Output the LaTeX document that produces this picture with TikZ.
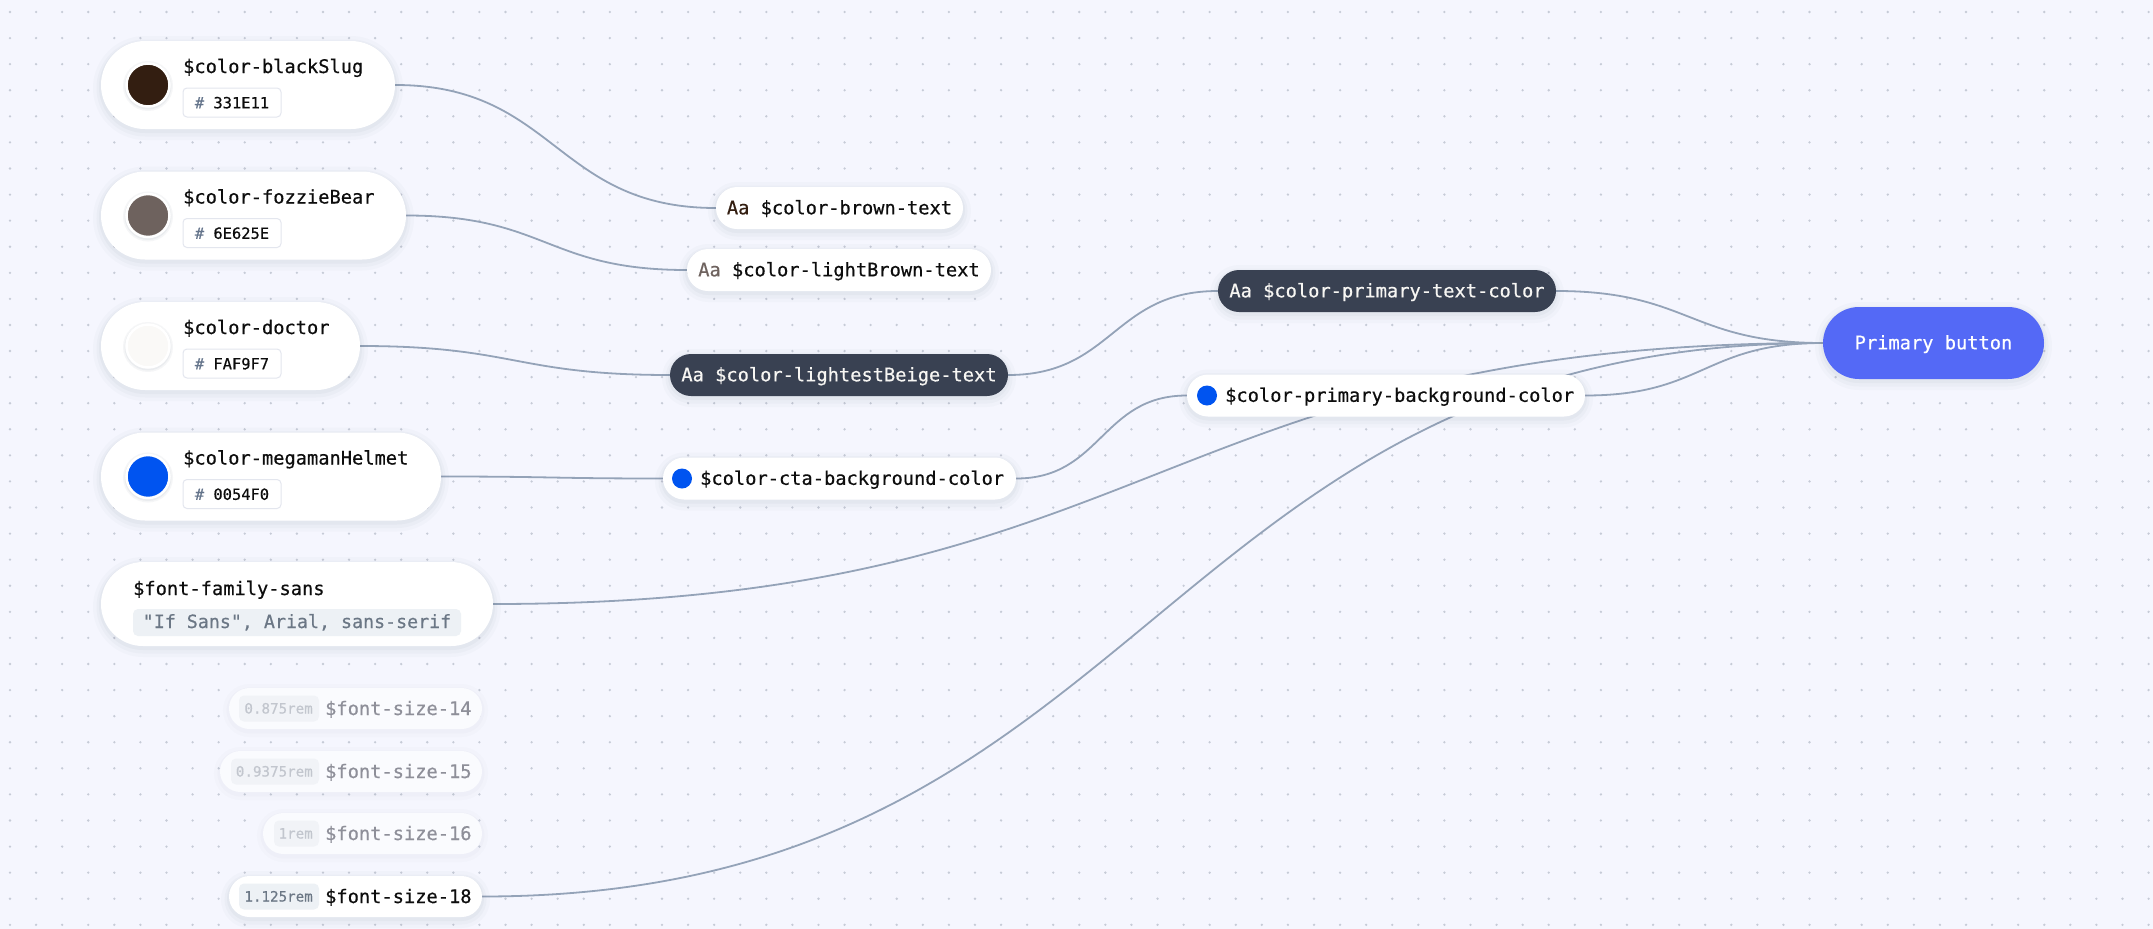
\documentclass[tikz,border=0pt]{standalone}
\usepackage{fontspec}
\newfontfamily\mono[FakeBold=0.5]{DejaVu Sans Mono}
\usetikzlibrary{calc}

\definecolor{canvas}{HTML}{F5F6FE}
\definecolor{griddot}{HTML}{C6CBD7}
\definecolor{wirec}{HTML}{94A3B8}
\definecolor{slate}{HTML}{394152}
\definecolor{ink}{HTML}{0D0D0D}
\definecolor{lighttext}{HTML}{F7F6F3}
\definecolor{hashc}{HTML}{64748B}
\definecolor{hexline}{HTML}{E3E6EE}
\definecolor{valfill}{HTML}{EDF1F5}
\definecolor{valtext}{HTML}{6B7785}
\definecolor{shadowc}{HTML}{4A5470}
\definecolor{blackSlug}{HTML}{331E11}
\definecolor{fozzieBear}{HTML}{6E625E}
\definecolor{doctor}{HTML}{FAF9F7}
\definecolor{megaman}{HTML}{0054F0}
\definecolor{btn}{HTML}{5469F6}
\definecolor{fadetext}{HTML}{8E8F99}
\definecolor{fadefill}{HTML}{FAFBFE}
\definecolor{fadeval}{HTML}{C2C6CE}
\definecolor{fadevalfill}{HTML}{F1F3F7}

\pgfdeclarelayer{grid}
\pgfdeclarelayer{links}
\pgfsetlayers{grid,links,main}

\newcommand\bigfont{\mono\fontsize{18.7pt}{22pt}\selectfont}
\newcommand\hexfont{\mono\fontsize{15.4pt}{18pt}\selectfont}
\newcommand\remfont{\mono\fontsize{14.2pt}{17pt}\selectfont}

% bezier link with horizontal tangents at both ends
\newcommand\wire[2]{%
  \draw[wire] let \p1=(#1.east), \p2=(#2.west), \n1={0.5*(\x2-\x1)} in
    (\p1) .. controls +(\n1,0pt) and +(-\n1,0pt) .. (\p2);}

\tikzset{
  % soft drop shadow built from stacked translucent strokes
  softshadow/.style={
    preaction={draw=shadowc, draw opacity=0.025, line width=16pt, transform canvas={yshift=-3pt}},
    preaction={draw=shadowc, draw opacity=0.03, line width=9pt, transform canvas={yshift=-3pt}},
    preaction={draw=shadowc, draw opacity=0.04, line width=4pt, transform canvas={yshift=-2pt}}},
  faintshadow/.style={
    preaction={draw=shadowc, draw opacity=0.015, line width=12pt, transform canvas={yshift=-2pt}},
    preaction={draw=shadowc, draw opacity=0.02, line width=5pt, transform canvas={yshift=-2pt}}},
  card/.style={rectangle, fill=white, inner sep=0pt, rounded corners=44pt,
      minimum height=88pt, softshadow},
  chip/.style={rectangle, fill=white, inner sep=0pt, rounded corners=21pt,
      minimum height=42pt, softshadow},
  darkchip/.style={chip, fill=slate},
  sizepill/.style={rectangle, fill=white, inner sep=0pt, rounded corners=20.5pt,
      minimum height=41pt, softshadow},
  fadepill/.style={rectangle, fill=fadefill, inner sep=0pt, rounded corners=20.5pt,
      minimum height=41pt, faintshadow},
  swatch/.style={circle, inner sep=0pt, minimum size=43pt, draw=white,
      line width=2.5pt,
      preaction={draw=shadowc, draw opacity=0.05, line width=7pt, transform canvas={yshift=-1pt}},
      preaction={draw=shadowc, draw opacity=0.06, line width=4pt, transform canvas={yshift=-1pt}}},
  bluedot/.style={circle, fill=megaman, inner sep=0pt, minimum size=20pt},
  titletext/.style={anchor=base west, inner sep=0pt, text=ink, font=\bigfont},
  chiptext/.style={anchor=base, inner sep=0pt, text=ink, font=\bigfont},
  hexbox/.style={rectangle, draw=hexline, line width=1pt, fill=white,
      rounded corners=4pt, minimum width=98pt, minimum height=29pt, inner sep=0pt},
  hextext/.style={anchor=base, inner sep=0pt, font=\hexfont, text=ink},
  valbox/.style={rectangle, fill=valfill, rounded corners=5pt,
      minimum height=26pt, inner sep=0pt},
  remtext/.style={anchor=base east, inner sep=0pt, font=\remfont, text=valtext},
  wire/.style={draw=wirec, line width=1.8pt},
}

\begin{document}
\begin{tikzpicture}[x=1pt, y=-1pt]
\useasboundingbox (0,0) rectangle (2153,929);

% canvas and dot grid
\begin{pgfonlayer}{grid}
  \fill[canvas] (0,0) rectangle (2153,929);
  \fill[griddot] \foreach \i in {0,...,82} {\foreach \j in {0,...,35}
      {(10+26.08*\i, 12+26.08*\j) circle (1.3pt)}};
\end{pgfonlayer}

% ---- colour tokens ----
\node[card, minimum width=294pt] (slug) at (248,85) {};
\node[swatch, fill=blackSlug] (slugsw) at (148,85) {};
\node[titletext] (slugname) at (183,73) {\$color-blackSlug};
\node[hexbox] (slughexbox) at (232,102.5) {};
\node[hextext] (slughex) at (232,108.3) {\textcolor{hashc}{\#} 331E11};

\node[card, minimum width=305pt] (fozzie) at (253.5,215.5) {};
\node[swatch, fill=fozzieBear] (fozziesw) at (148,215.5) {};
\node[titletext] (fozziename) at (183,203.5) {\$color-fozzieBear};
\node[hexbox] (fozziehexbox) at (232,233) {};
\node[hextext] (fozziehex) at (232,238.8) {\textcolor{hashc}{\#} 6E625E};

\node[card, minimum width=259pt] (doctor) at (230.5,346) {};
\node[swatch, fill=doctor] (doctorsw) at (148,346) {};
\node[titletext] (doctorname) at (183,334) {\$color-doctor};
\node[hexbox] (doctorhexbox) at (232,363.5) {};
\node[hextext] (doctorhex) at (232,369.3) {\textcolor{hashc}{\#} FAF9F7};

\node[card, minimum width=340pt] (mega) at (271,476.5) {};
\node[swatch, fill=megaman] (megasw) at (148,476.5) {};
\node[titletext] (meganame) at (183,464.5) {\$color-megamanHelmet};
\node[hexbox] (megahexbox) at (232,494) {};
\node[hextext] (megahex) at (232,499.8) {\textcolor{hashc}{\#} 0054F0};

% ---- font family token ----
\node[card, minimum width=392pt, minimum height=84pt, rounded corners=42pt] (fontfam) at (297,604) {};
\node[titletext] (fontfamname) at (133,595) {\$font-family-sans};
\node[valbox, minimum width=328pt, minimum height=27pt] (fontfambox) at (297,622.5) {};
\node[anchor=base, inner sep=0pt, text=valtext, font=\mono\fontsize{18.3pt}{22pt}\selectfont]
  (fontfamval) at (297,628) {"If Sans", Arial, sans-serif};

% ---- font size tokens ----
\node[fadepill, minimum width=253pt] (fs14) at (355.5,708.5) {};
\node[valbox, fill=fadevalfill, minimum width=80pt] (fs14box) at (279,708.5) {};
\node[remtext, text=fadeval] (fs14val) at (313,713.5) {0.875rem};
\node[titletext, text=fadetext] (fs14name) at (325,715) {\$font-size-14};

\node[fadepill, minimum width=262pt] (fs15) at (351,771.5) {};
\node[valbox, fill=fadevalfill, minimum width=88pt] (fs15box) at (275,771.5) {};
\node[remtext, text=fadeval] (fs15val) at (313,776.5) {0.9375rem};
\node[titletext, text=fadetext] (fs15name) at (325,778) {\$font-size-15};

\node[fadepill, minimum width=219pt] (fs16) at (372.5,833.5) {};
\node[valbox, fill=fadevalfill, minimum width=45pt] (fs16box) at (296.5,833.5) {};
\node[remtext, text=fadeval] (fs16val) at (313,838.5) {1rem};
\node[titletext, text=fadetext] (fs16name) at (325,840) {\$font-size-16};

\node[sizepill, minimum width=253pt] (fs18) at (355.5,896.5) {};
\node[valbox, minimum width=80pt] (fs18box) at (279,896.5) {};
\node[remtext] (fs18val) at (313,901.5) {1.125rem};
\node[titletext] (fs18name) at (325,903) {\$font-size-18};

% ---- derived tokens ----
\node[chip, minimum width=247pt] (brown) at (839.5,208) {};
\node[chiptext] (browntext) at (839.5,214.3) {\textcolor{blackSlug}{Aa} \$color-brown-text};

\node[chip, minimum width=304pt] (lbrown) at (839,270) {};
\node[chiptext] (lbrowntext) at (839,276.3) {\textcolor{fozzieBear}{Aa} \$color-lightBrown-text};

\node[darkchip, minimum width=338pt] (beige) at (839,375) {};
\node[chiptext, text=lighttext] (beigetext) at (839,381.3) {Aa \$color-lightestBeige-text};

\node[chip, minimum width=353pt] (cta) at (839.5,478.5) {};
\node[bluedot] (ctadot) at (682,478.5) {};
\node[titletext] (ctatext) at (700,484.8) {\$color-cta-background-color};

% ---- component tokens ----
\node[darkchip, minimum width=338pt] (ptext) at (1387,291) {};
\node[chiptext, text=lighttext] (ptexttext) at (1387,297.3) {Aa \$color-primary-text-color};

\node[chip, minimum width=398pt] (pbg) at (1386,395.5) {};
\node[bluedot] (pbgdot) at (1207,395.5) {};
\node[titletext] (pbgtext) at (1225,401.8) {\$color-primary-background-color};

% ---- component ----
\node[rectangle, fill=btn, inner sep=0pt, rounded corners=36pt, minimum width=221pt,
  minimum height=72pt, softshadow] (button) at (1933.5,343) {};
\node[chiptext, text=white] (buttontext) at (1933.5,349.3) {Primary button};

% ---- links ----
\begin{pgfonlayer}{links}
  \wire{slug}{brown}
  \wire{fozzie}{lbrown}
  \wire{doctor}{beige}
  \wire{mega}{cta}
  \wire{beige}{ptext}
  \wire{cta}{pbg}
  \wire{ptext}{button}
  \wire{pbg}{button}
  \wire{fontfam}{button}
  \wire{fs18}{button}
\end{pgfonlayer}
\end{tikzpicture}
\end{document}
